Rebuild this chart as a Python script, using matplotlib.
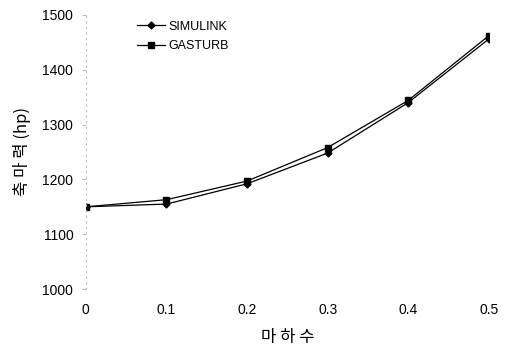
import matplotlib
matplotlib.use("Agg")
import matplotlib.pyplot as plt

mach = [0, 0.1, 0.2, 0.3, 0.4, 0.5]
simulink = [1150, 1155, 1192, 1248, 1340, 1456]
gasturb = [1150, 1163, 1197, 1258, 1344, 1462]
yticks = [1000, 1100, 1200, 1300, 1400, 1500]
xticks = [0, 0.1, 0.2, 0.3, 0.4, 0.5]

plt.rcParams['font.family'] = ['Liberation Sans', 'Noto Sans CJK KR', 'DejaVu Sans']

fig = plt.figure(figsize=(5.05, 3.53), dpi=100)
ax = fig.add_axes([0.170, 0.181, 0.798, 0.777])

ax.plot(mach, simulink, color='black', lw=0.9, marker='D', ms=3.5, label='SIMULINK')
ax.plot(mach, gasturb, color='black', lw=0.9, marker='s', ms=4.5, label='GASTURB')

ax.set_xlim(0, 0.5)
ax.set_ylim(1000, 1500)
ax.set_xticks(xticks)
ax.set_xticklabels(['0', '0.1', '0.2', '0.3', '0.4', '0.5'])
ax.set_yticks(yticks)

for s in ['top', 'right', 'bottom']:
    ax.spines[s].set_visible(False)
ax.spines['left'].set_color('#bbbbbb')
ax.spines['left'].set_linestyle((0, (1, 4)))
ax.spines['left'].set_linewidth(0.8)
ax.tick_params(axis='y', length=3, color='#bbbbbb', labelsize=10, pad=6)
ax.tick_params(axis='x', length=0, labelsize=10, pad=10)

ax.set_xlabel('마 하 수', family=['Noto Sans CJK KR', 'DejaVu Sans'], fontsize=12, labelpad=9)
ax.set_ylabel('축 마 력 (hp)', family=['Noto Sans CJK KR', 'DejaVu Sans'], fontsize=12, labelpad=8)

ax.legend(loc='upper left', bbox_to_anchor=(0.1, 1.02), frameon=False, fontsize=9,
          handlelength=2.2, labelspacing=0.6, handletextpad=0.3)

fig.savefig('out.png', dpi=100)
